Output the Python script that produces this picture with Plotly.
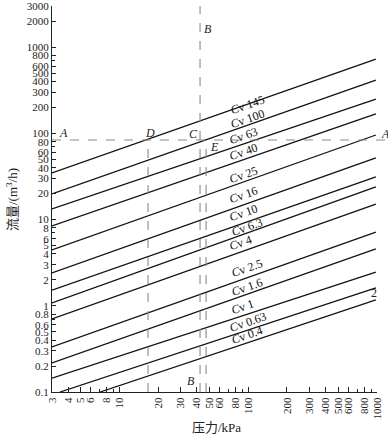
import plotly.graph_objects as go

# ---- data ----
cv_labels = ["145", "100", "63", "40", "25", "16", "10", "6.3", "4", "2.5", "1.6", "1", "0.63", "0.4"]
p_start = [3, 3, 3, 3, 3, 3, 3, 3, 3, 3, 3, 3, 3.46, 7.08]
q_start = [34.7, 19.8, 13.3, 8.42, 4.44, 2.40, 1.52, 1.08, 0.703, 0.333, 0.217, 0.145, 0.1, 0.1]
p_end = [980] * 14
q_end = [728, 415, 250, 168, 95.7, 51.8, 31.2, 23.9, 15.1, 7.17, 4.56, 2.46, 1.61, 1.17]

x_ticks = [3, 4, 5, 6, 8, 10, 20, 30, 40, 50, 60, 80, 100, 200, 300, 400, 500, 600, 800, 1000]
x_ticktext = [str(v) for v in x_ticks]
y_ticks = [0.1, 0.2, 0.3, 0.4, 0.5, 0.6, 0.8, 1, 2, 3, 4, 5, 6, 8, 10, 20, 30, 40, 50, 60, 80,
           100, 200, 300, 400, 500, 600, 800, 1000, 2000, 3000]
y_ticktext = [str(v) for v in y_ticks]

# reference (dashed) lines
q_line_A = 83.7      # horizontal A-A
p_line_D = 16.7      # vertical through D
p_line_B = 42.3      # vertical B-B (through C)
p_line_E = 47.1      # vertical through E
q_top_E = 77.3

# ---- layout geometry ----
W, H = 388, 437
L, R, T, B = 52, 11, 6, 45
PW, PH = W - L - R, H - T - B


def paper(px, py):
    return (px - L) / PW, (H - B - py) / PH


FONT = "Liberation Serif, DejaVu Serif, Noto Sans CJK SC"

fig = go.Figure()
for i in range(len(cv_labels)):
    fig.add_trace(go.Scatter(
        x=[p_start[i], p_end[i]], y=[q_start[i], q_end[i]],
        mode="lines", line=dict(color="#111", width=1.3),
        showlegend=False, hoverinfo="skip"))

dash = dict(color="#8a8a8a", width=1.1, dash="dash")
x0p, _ = paper(52, 0)
x1p, _ = paper(388, 0)
fig.add_shape(type="line", xref="paper", yref="y", x0=x0p, x1=x1p, y0=q_line_A, y1=q_line_A, line=dash)
fig.add_shape(type="line", xref="x", yref="y", x0=p_line_D, x1=p_line_D, y0=0.1, y1=q_line_A, line=dash)
fig.add_shape(type="line", xref="x", yref="paper", x0=p_line_B, x1=p_line_B, y0=0, y1=1.0, line=dash)
fig.add_shape(type="line", xref="x", yref="y", x0=p_line_E, x1=p_line_E, y0=0.1, y1=q_top_E, line=dash)

# Cv labels (pixel centres, rotated along the lines)
label_px = [(247, 105), (247, 119), (243, 136), (243, 152), (243, 175), (243, 195), (243, 213),
            (247, 227), (240, 243), (247, 268), (247, 287), (242, 307), (248, 322), (247, 335)]
for lab, (px, py) in zip(cv_labels, label_px):
    xp, yp = paper(px, py)
    fig.add_annotation(x=xp, y=yp, xref="paper", yref="paper", text="<i>C</i>v " + lab,
                       xanchor="center", yanchor="middle",
                       showarrow=False, textangle=-19, font=dict(family=FONT, size=12, color="#111"))

letters = [("A", 63, 133), ("A", 385, 134), ("D", 150, 133), ("C", 193, 134), ("E", 214, 147),
           ("B", 208, 29), ("B", 191, 381), ("2", 374, 293)]
for t, px, py in letters:
    xp, yp = paper(px, py)
    txt = t if t == "2" else "<i>" + t + "</i>"
    fig.add_annotation(x=xp, y=yp, xref="paper", yref="paper", text=txt, showarrow=False,
                       xanchor="center", yanchor="middle",
                       font=dict(family=FONT, size=12, color="#222"))

# axis titles
xp, yp = paper(216, 427)
fig.add_annotation(x=xp, y=yp, xref="paper", yref="paper", text="压力/kPa", showarrow=False,
                   xanchor="center", yanchor="middle",
                   font=dict(family=FONT, size=13, color="#222"))
xp, yp = paper(12, 200)
fig.add_annotation(x=xp, y=yp, xref="paper", yref="paper", text="流量/(m<sup>3</sup>/h)",
                   xanchor="center", yanchor="middle",
                   showarrow=False, textangle=-90, font=dict(family=FONT, size=13, color="#222"))

fig.update_layout(
    width=W, height=H, template="none",
    margin=dict(l=L, r=R, t=T, b=B, autoexpand=False),
    paper_bgcolor="white", plot_bgcolor="white",
    font=dict(family=FONT, size=12, color="#222"),
    xaxis=dict(type="log", range=[0.47712, 3.0], tickvals=x_ticks, ticktext=x_ticktext,
               tickangle=-90, ticks="inside", ticklen=5, tickcolor="#222",
               showline=True, linecolor="#222", linewidth=1, showgrid=False, zeroline=False,
               automargin=False, ticklabeloverflow="allow", tickfont=dict(family=FONT, size=11),
               minor=dict(tickvals=[7, 9, 70, 90, 700, 900], ticks="inside", ticklen=3,
                          tickcolor="#222", showgrid=False)),
    yaxis=dict(type="log", range=[-1, 3.47712], tickvals=y_ticks, ticktext=y_ticktext,
               ticks="inside", ticklen=4, tickcolor="#222",
               showline=True, linecolor="#222", linewidth=1, showgrid=False, zeroline=False,
               automargin=False, ticklabeloverflow="allow", tickfont=dict(family=FONT, size=11),
               minor=dict(tickvals=[0.7, 7, 70, 700], ticks="inside", ticklen=3,
                          tickcolor="#222", showgrid=False)),
)

fig.write_html("out.html", config={"displayModeBar": False},
               post_script="document.body.style.margin='0px';")
